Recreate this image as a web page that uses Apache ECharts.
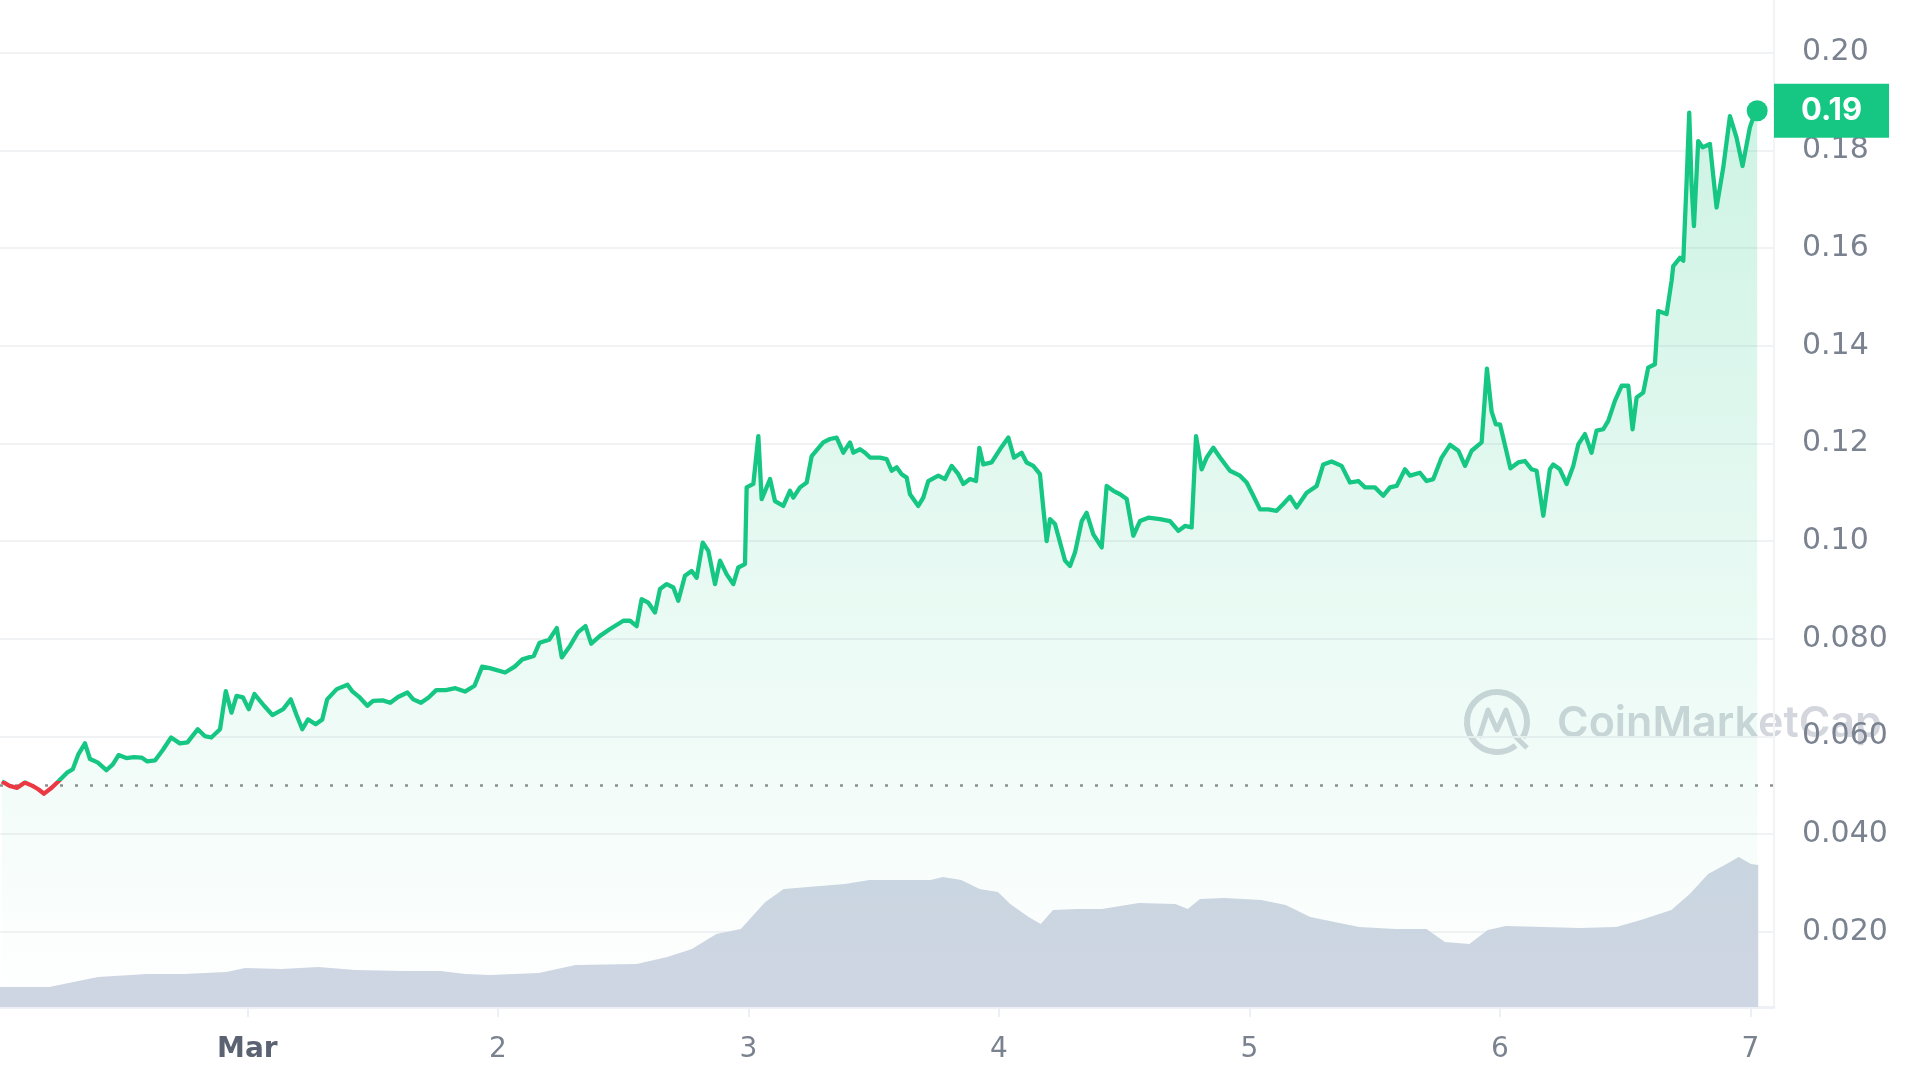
<!DOCTYPE html>
<html>
<head>
<meta charset="utf-8">
<script src="https://cdn.jsdelivr.net/npm/echarts@6.0.0/dist/echarts.min.js"></script>
<style>
  html, body { margin: 0; padding: 0; background: #ffffff; }
  #root { width: 1920px; height: 1080px; }
</style>
</head>
<body>
<div id="root"></div>
<script>
// price, hours from Mar 1 00:00
const hours = [
  -23.52, -22.78, -22.05, -21.32, -20.58, -20.03, -19.48, -18.75, -18.02, -17.28,
  -16.73, -16.18, -15.56, -15.08, -14.35, -13.51, -12.89, -12.34, -11.60, -10.87,
  -10.14, -9.59, -8.85, -8.12, -7.31, -6.47, -5.74, -4.75, -4.09, -3.46,
  -2.62, -2.07, -1.52, -1.04, -0.42, 0.13, 0.68, 1.60, 2.40, 3.43,
  4.16, 4.71, 5.26, 5.81, 6.54, 7.17, 7.64, 8.56, 9.59, 10.03,
  10.76, 11.49, 12.04, 12.96, 13.69, 14.43, 15.34, 15.89, 16.63, 17.36,
  18.09, 19.01, 19.93, 20.84, 21.76, 22.49, 23.22, 24.69, 25.61, 26.34,
  27.44, 27.99, 28.91, 29.64, 30.12, 30.92, 31.66, 32.39, 32.94, 33.78,
  34.74, 36.02, 36.66, 37.29, 37.77, 38.41, 39.05, 39.53, 40.17, 40.81,
  41.28, 41.92, 42.56, 43.04, 43.62, 44.16, 44.80, 45.28, 45.92, 46.55,
  47.03, 47.67, 47.83, 48.47, 48.95, 49.27, 50.07, 50.54, 51.34, 51.98,
  52.30, 52.94, 53.58, 54.06, 55.17, 55.81, 56.45, 57.09, 57.73, 58.05,
  58.69, 59.17, 59.65, 60.60, 61.24, 61.72, 62.20, 62.68, 63.16, 63.48,
  64.27, 64.75, 65.23, 66.19, 66.83, 67.47, 68.11, 68.59, 69.22, 69.80,
  70.12, 70.50, 71.30, 72.10, 72.90, 73.44, 74.17, 74.65, 75.29, 75.93,
  76.18, 76.57, 76.89, 77.37, 78.33, 78.81, 79.29, 79.93, 80.40, 81.04,
  81.84, 82.32, 82.96, 83.60, 84.24, 84.87, 85.51, 86.31, 87.43, 88.39,
  89.19, 89.82, 90.46, 90.88, 91.42, 91.90, 92.54, 93.18, 94.13, 95.09,
  95.73, 96.37, 97.01, 97.81, 98.60, 99.24, 99.88, 100.52, 101.48, 102.44,
  103.07, 103.87, 104.83, 105.63, 106.43, 107.07, 108.02, 108.82, 109.46, 110.10,
  110.90, 111.38, 112.33, 112.97, 113.61, 114.41, 115.21, 116.01, 116.65, 117.28,
  118.24, 118.75, 119.20, 119.60, 120.00, 121.00, 121.75, 122.39, 123.03, 123.51,
  124.15, 124.78, 125.10, 125.74, 126.38, 127.02, 127.50, 128.14, 128.77, 129.25,
  129.89, 130.37, 131.01, 131.65, 132.29, 132.70, 133.09, 133.72, 134.20, 134.84,
  135.16, 135.96, 136.44, 136.60, 137.24, 137.56, 137.88, 138.13, 138.35, 138.58,
  138.99, 139.41, 140.11, 140.75, 141.39, 142.03, 142.66, 143.24, 143.94, 144.26,
  144.64
]
const prices = [
  0.0508, 0.0499, 0.0495, 0.0506, 0.0499, 0.0492, 0.0483, 0.0495, 0.0510, 0.0526,
  0.0533, 0.0564, 0.0586, 0.0554, 0.0547, 0.0531, 0.0543, 0.0562, 0.0556, 0.0558,
  0.0557, 0.0549, 0.0551, 0.0572, 0.0598, 0.0586, 0.0588, 0.0615, 0.0601, 0.0598,
  0.0615, 0.0693, 0.0649, 0.0683, 0.0680, 0.0656, 0.0687, 0.0663, 0.0644, 0.0656,
  0.0676, 0.0644, 0.0615, 0.0635, 0.0625, 0.0635, 0.0676, 0.0697, 0.0706, 0.0693,
  0.0680, 0.0663, 0.0673, 0.0674, 0.0669, 0.0681, 0.0690, 0.0676, 0.0669, 0.0680,
  0.0695, 0.0695, 0.0699, 0.0692, 0.0704, 0.0743, 0.0740, 0.0731, 0.0743, 0.0758,
  0.0765, 0.0792, 0.0798, 0.0822, 0.0762, 0.0786, 0.0813, 0.0826, 0.0790, 0.0806,
  0.0820, 0.0837, 0.0837, 0.0826, 0.0881, 0.0874, 0.0854, 0.0902, 0.0912, 0.0905,
  0.0878, 0.0929, 0.0939, 0.0925, 0.0997, 0.0980, 0.0912, 0.0960, 0.0932, 0.0912,
  0.0946, 0.0953, 0.1110, 0.1117, 0.1215, 0.1086, 0.1127, 0.1082, 0.1072, 0.1103,
  0.1089, 0.1110, 0.1120, 0.1174, 0.1202, 0.1209, 0.1212, 0.1181, 0.1202, 0.1181,
  0.1188, 0.1181, 0.1171, 0.1171, 0.1168, 0.1144, 0.1151, 0.1137, 0.1130, 0.1096,
  0.1072, 0.1089, 0.1123, 0.1134, 0.1127, 0.1154, 0.1137, 0.1117, 0.1127, 0.1123,
  0.1191, 0.1157, 0.1161, 0.1188, 0.1212, 0.1171, 0.1181, 0.1161, 0.1154, 0.1137,
  0.1082, 0.1000, 0.1045, 0.1035, 0.0960, 0.0949, 0.0977, 0.1041, 0.1058, 0.1014,
  0.0987, 0.1113, 0.1103, 0.1096, 0.1086, 0.1011, 0.1041, 0.1048, 0.1045, 0.1041,
  0.1021, 0.1031, 0.1028, 0.1215, 0.1147, 0.1171, 0.1191, 0.1171, 0.1144, 0.1134,
  0.1120, 0.1093, 0.1065, 0.1065, 0.1062, 0.1076, 0.1091, 0.1069, 0.1099, 0.1113,
  0.1157, 0.1163, 0.1154, 0.1120, 0.1123, 0.1110, 0.1110, 0.1093, 0.1110, 0.1113,
  0.1147, 0.1134, 0.1140, 0.1123, 0.1127, 0.1171, 0.1197, 0.1185, 0.1154, 0.1185,
  0.1202, 0.1353, 0.1265, 0.1239, 0.1239, 0.1149, 0.1161, 0.1164, 0.1147, 0.1144,
  0.1052, 0.1147, 0.1157, 0.1147, 0.1117, 0.1154, 0.1198, 0.1219, 0.1181, 0.1226,
  0.1229, 0.1246, 0.1287, 0.1318, 0.1318, 0.1229, 0.1294, 0.1304, 0.1355, 0.1362,
  0.1471, 0.1465, 0.1533, 0.1563, 0.1580, 0.1574, 0.1737, 0.1877, 0.1731, 0.1645,
  0.1819, 0.1806, 0.1813, 0.1683, 0.1765, 0.1870, 0.1826, 0.1768, 0.1847, 0.1867,
  0.1881
]

// volume (relative units)
const volHours = [
  -23.70, -19.00, -16.66, -14.31, -9.62, -6.10, -1.99, -0.23, 3.28, 6.80,
  10.32, 15.01, 18.53, 20.88, 23.23, 27.92, 31.44, 37.30, 40.23, 42.58,
  44.93, 47.27, 49.62, 51.38, 53.72, 57.24, 59.59, 63.11, 65.45, 66.63,
  68.39, 70.15, 71.90, 73.08, 74.84, 76.01, 77.18, 79.53, 81.88, 85.39,
  88.91, 90.09, 91.26, 93.61, 97.12, 99.47, 101.82, 104.16, 106.51, 110.03,
  112.96, 114.72, 117.07, 118.82, 120.58, 124.10, 127.62, 131.14, 133.49, 136.42,
  138.18, 139.94, 141.70, 142.87, 144.04, 144.74
]
const volumes = [
  20, 20, 25, 30, 33, 33, 35, 39, 38, 40,
  37, 36, 36, 33, 32, 34, 42, 43, 50, 58,
  73, 78, 105, 118, 120, 123, 127, 127, 127, 130,
  127, 118, 115, 103, 90, 83, 97, 98, 98, 104,
  103, 98, 108, 109, 107, 102, 90, 85, 80, 78,
  78, 65, 63, 77, 81, 80, 79, 80, 87, 97,
  113, 133, 143, 150, 143, 142
]

const dayTicks = [0, 24, 48, 72, 96, 120, 144]
const dayLabels = ['Mar', '2', '3', '4', '5', '6', '7']
const priceTicks = [0.02, 0.04, 0.06, 0.08, 0.10, 0.12, 0.14, 0.16, 0.18, 0.20]
const priceTickLabels = ['0.020', '0.040', '0.060', '0.080', '0.10', '0.12', '0.14', '0.16', '0.18', '0.20']

const GREEN = '#16c784'
const RED = '#ea3943'
const LABEL_FONT = 'DejaVu Sans'

const openPrice = prices[0]
const lastPrice = prices[prices.length - 1]
const lastHour = hours[hours.length - 1]

const xMin = -23.7
const xMax = 146.25
const yMin = 0.00463
const yMax = 0.21077

const chart = echarts.init(document.getElementById('root'))

const option = {
  animation: false,
  backgroundColor: '#ffffff',
  grid: [
    { left: 0, right: 146, top: 0, bottom: 73 },
    { left: 0, right: 146, top: 807, bottom: 73 }
  ],
  xAxis: [
    {
      type: 'value',
      gridIndex: 0,
      min: xMin,
      max: xMax,
      show: false
    },
    {
      type: 'value',
      gridIndex: 1,
      min: xMin,
      max: xMax,
      axisLine: { show: true, onZero: false, lineStyle: { color: '#edf0f5', width: 3 } },
      axisTick: { show: true, customValues: dayTicks, length: 10, lineStyle: { color: '#eceff3', width: 2 } },
      splitLine: { show: false },
      axisLabel: {
        customValues: dayTicks,
        margin: 29,
        fontFamily: LABEL_FONT,
        fontSize: 28,
        color: '#7a8290',
        formatter: v => {
          const i = dayTicks.indexOf(v)
          return i === 0 ? '{b|' + dayLabels[0] + '}' : dayLabels[i]
        },
        rich: {
          b: { fontFamily: LABEL_FONT, fontSize: 28, fontWeight: 'bold', color: '#5b6373' }
        }
      }
    }
  ],
  yAxis: [
    {
      type: 'value',
      gridIndex: 0,
      position: 'right',
      min: yMin,
      max: yMax,
      axisLine: { show: true, onZero: false, lineStyle: { color: '#f2f3f5', width: 2 } },
      axisTick: { show: false, customValues: priceTicks },
      splitLine: { show: true, lineStyle: { color: '#f1f2f4', width: 2 } },
      axisLabel: {
        customValues: priceTicks,
        margin: 28,
        padding: [9, 0, 0, 0],
        fontFamily: LABEL_FONT,
        fontSize: 30,
        color: '#7a8290',
        formatter: v => {
          const i = priceTicks.findIndex(t => Math.abs(t - v) < 1e-9)
          return i >= 0 ? priceTickLabels[i] : ''
        }
      }
    },
    {
      type: 'value',
      gridIndex: 0,
      position: 'right',
      min: yMin,
      max: yMax,
      axisLine: { show: false, onZero: false },
      axisTick: { show: false },
      splitLine: { show: false },
      axisLabel: {
        customValues: [lastPrice],
        margin: 0,
        formatter: () => lastPrice.toFixed(2),
        backgroundColor: GREEN,
        color: '#ffffff',
        fontFamily: 'Inter',
        fontWeight: 'bold',
        fontSize: 31,
        lineHeight: 33,
        padding: [11, 27, 10, 27]
      }
    },
    {
      type: 'value',
      gridIndex: 1,
      min: 0,
      max: 200,
      show: false
    }
  ],
  graphic: [
    {
      type: 'group',
      z: 1,
      children: [
        {
          type: 'arc',
          shape: { cx: 1497, cy: 722, r: 30, startAngle: 0.9, endAngle: 0.55 + Math.PI * 2 },
          style: { fill: 'none', stroke: '#d3d6dc', lineWidth: 6 }
        },
        {
          type: 'polyline',
          shape: { points: [[1479, 738], [1488, 710], [1497, 730], [1506, 710], [1515, 736], [1527, 748]] },
          style: { fill: 'none', stroke: '#d3d6dc', lineWidth: 5, lineJoin: 'round' }
        },
        {
          type: 'text',
          style: {
            text: 'CoinMarketCap',
            x: 1557,
            y: 724,
            verticalAlign: 'middle',
            font: '600 43px Inter',
            fill: '#d3d6dc'
          }
        }
      ]
    }
  ],
  series: [
    {
      type: 'line',
      xAxisIndex: 0,
      yAxisIndex: 0,
      data: hours.map((h, i) => [h, prices[i]]),
      showSymbol: false,
      z: 5,
      lineStyle: { width: 4.3, color: GREEN, join: 'round' },
      areaStyle: {
        color: new echarts.graphic.LinearGradient(0, 0, 0, 1, [
          { offset: 0, color: 'rgba(22,199,132,0.30)' },
          { offset: 1, color: 'rgba(22,199,132,0.0)' }
        ])
      },
      markLine: {
        silent: true,
        symbol: 'none',
        label: { show: false },
        lineStyle: { color: '#8f8f8f', type: [3, 12], width: 2.5 },
        data: [{ yAxis: openPrice }]
      },
      markPoint: {
        symbol: 'circle',
        symbolSize: 21,
        itemStyle: { color: GREEN },
        label: { show: false },
        data: [{ coord: [lastHour, lastPrice] }]
      }
    },
    {
      type: 'line',
      xAxisIndex: 1,
      yAxisIndex: 2,
      data: volHours.map((h, i) => [h, volumes[i]]),
      showSymbol: false,
      z: 3,
      lineStyle: { width: 0 },
      areaStyle: { color: '#cfd6e3', opacity: 1 }
    }
  ]
}

chart.setOption(option)

// red below the opening price, green above it
const baseY = chart.convertToPixel({ yAxisIndex: 0 }, openPrice)
const h = chart.getHeight()
const stop = Math.min(Math.max(baseY / h, 0), 1)
chart.setOption({
  series: [{
    lineStyle: {
      color: new echarts.graphic.LinearGradient(0, 0, 0, h, [
        { offset: 0, color: GREEN },
        { offset: stop, color: GREEN },
        { offset: stop, color: RED },
        { offset: 1, color: RED }
      ], true)
    }
  }]
})
</script>
</body>
</html>
